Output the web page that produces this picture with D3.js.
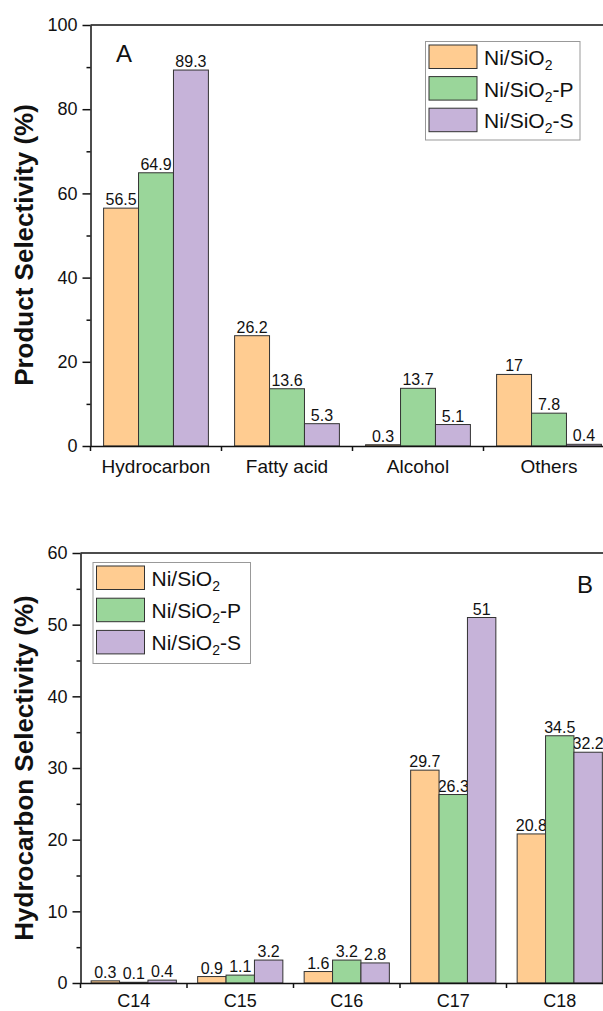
<!DOCTYPE html>
<html>
<head>
<meta charset="utf-8">
<script src="https://cdn.jsdelivr.net/npm/d3@7"></script>
<style>
  body { margin: 0; background: #fff; }
  text { font-family: "Liberation Sans", Arial, sans-serif; fill: #111; }
</style>
</head>
<body>
<script>
let width = 603;
let height = 1011;

// data
let seriesNames = ["Ni/SiO2", "Ni/SiO2-P", "Ni/SiO2-S"];
let seriesColors = ["#ffcc91", "#9ad69a", "#c6b3d9"];

let productCats = ["Hydrocarbon", "Fatty acid", "Alcohol", "Others"];
let productNi = [56.5, 26.2, 0.3, 17];
let productNiP = [64.9, 13.6, 13.7, 7.8];
let productNiS = [89.3, 5.3, 5.1, 0.4];
let productTicks = [0, 20, 40, 60, 80, 100];
let productMinor = [10, 30, 50, 70, 90];

let carbonCats = ["C14", "C15", "C16", "C17", "C18"];
let carbonNi = [0.3, 0.9, 1.6, 29.7, 20.8];
let carbonNiP = [0.1, 1.1, 3.2, 26.3, 34.5];
let carbonNiS = [0.4, 3.2, 2.8, 51, 32.2];
let carbonTicks = [0, 10, 20, 30, 40, 50, 60];
let carbonMinor = [5, 15, 25, 35, 45, 55];

let svg = d3.select("body")
    .append("svg")
    .attr("width", width)
    .attr("height", height);

function drawPanel(p) {
    let g = svg.append("g");

    let y = d3.scaleLinear().domain([0, p.yMax]).range([p.bottom, p.top]);
    let x0 = d3.scaleBand().domain(p.cats).range([p.left, p.right]);
    let x1 = d3.scaleBand().domain(d3.range(seriesNames.length))
        .range([0, x0.bandwidth()])
        .paddingInner(0)
        .paddingOuter(0.375);

    let rows = [];
    p.cats.forEach(function(c, i) {
        p.series.forEach(function(vals, s) {
            rows.push({cat: c, s: s, v: vals[i]});
        });
    });

    // labels first so neighbouring bars cover them like in the original
    g.append("g")
        .selectAll("text")
        .data(rows)
        .enter().append("text")
        .attr("x", function(d) { return x0(d.cat) + x1(d.s) + x1.bandwidth() / 2; })
        .attr("y", function(d) { return y(d.v) - 3; })
        .attr("text-anchor", "middle")
        .attr("font-size", 16)
        .text(function(d) { return String(d.v); });

    g.append("g")
        .selectAll("rect")
        .data(rows)
        .enter().append("rect")
        .attr("x", function(d) { return x0(d.cat) + x1(d.s); })
        .attr("y", function(d) { return y(d.v); })
        .attr("width", x1.bandwidth())
        .attr("height", function(d) { return p.bottom - y(d.v); })
        .attr("fill", function(d) { return seriesColors[d.s]; })
        .attr("stroke", "#333")
        .attr("stroke-width", 1);

    // y axis
    let yAxis = g.append("g")
        .attr("transform", "translate(" + p.left + ",0)")
        .call(d3.axisLeft(y).tickValues(p.ticks).tickSize(8).tickPadding(5).tickSizeOuter(0));
    yAxis.selectAll("text").attr("font-size", 18).style("font-family", "Liberation Sans, Arial, sans-serif").attr("fill", "#111");
    g.append("g")
        .attr("transform", "translate(" + p.left + ",0)")
        .call(d3.axisLeft(y).tickValues(p.minor).tickSize(4).tickFormat("").tickSizeOuter(0))
        .select(".domain").remove();

    // x axis
    let xAxis = g.append("g")
        .attr("transform", "translate(0," + p.bottom + ")")
        .call(d3.axisBottom(x0).tickSize(0).tickPadding(p.xPad));
    xAxis.selectAll("text").attr("font-size", p.xFont).style("font-family", "Liberation Sans, Arial, sans-serif").attr("fill", "#111");
    g.append("g")
        .selectAll("line")
        .data(p.cats)
        .enter().append("line")
        .attr("x1", function(d) { return x0(d); })
        .attr("x2", function(d) { return x0(d); })
        .attr("y1", p.bottom)
        .attr("y2", p.bottom + 5)
        .attr("stroke", "#111")
        .attr("stroke-width", 1.5);

    g.selectAll(".domain, .tick line").attr("stroke", "#111").attr("stroke-width", 1.5);

    // top frame
    g.append("line")
        .attr("x1", p.left).attr("x2", p.right)
        .attr("y1", y(p.yMax)).attr("y2", y(p.yMax))
        .attr("stroke", "#111").attr("stroke-width", 1.5);

    // axis title
    g.append("text")
        .attr("transform", "translate(33," + p.titleY + ") rotate(-90)")
        .attr("text-anchor", "middle")
        .attr("font-size", 26)
        .attr("font-weight", "bold")
        .text(p.title);

    // panel letter
    g.append("text")
        .attr("x", p.letterX)
        .attr("y", p.letterY)
        .attr("font-size", 24)
        .text(p.letter);

    // legend
    let lg = g.append("g").attr("transform", "translate(" + p.legX + "," + p.legY + ")");
    lg.append("rect")
        .attr("width", p.legW).attr("height", p.legH)
        .attr("fill", "#fff").attr("stroke", "#999").attr("stroke-width", 1);
    let items = lg.selectAll("g.item")
        .data(seriesNames)
        .enter().append("g")
        .attr("class", "item")
        .attr("transform", function(d, i) { return "translate(3.5," + (3.5 + i * p.legStep) + ")"; });
    items.append("rect")
        .attr("width", 48).attr("height", 23.5)
        .attr("fill", function(d, i) { return seriesColors[i]; })
        .attr("stroke", "#333").attr("stroke-width", 1);
    let lt = items.append("text")
        .attr("x", 55)
        .attr("y", 20)
        .attr("font-size", 21);
    lt.append("tspan").text("Ni/SiO");
    lt.append("tspan").attr("font-size", 14).attr("dy", 5).text("2");
    lt.append("tspan").attr("dy", -5).text(function(d) { return d.slice(7); });
}

drawPanel({
    cats: productCats,
    series: [productNi, productNiP, productNiS],
    yMax: 100, ticks: productTicks, minor: productMinor,
    left: 90.5, right: 614.5, top: 25, bottom: 446,
    xPad: 14, xFont: 19,
    title: "Product Selectivity (%)", titleY: 245,
    letter: "A", letterX: 116, letterY: 62,
    legX: 425.5, legY: 41.5, legW: 154.5, legH: 98.5, legStep: 31.6
});

drawPanel({
    cats: carbonCats,
    series: [carbonNi, carbonNiP, carbonNiS],
    yMax: 60, ticks: carbonTicks, minor: carbonMinor,
    left: 80.5, right: 613, top: 553, bottom: 983,
    xPad: 11, xFont: 18,
    title: "Hydrocarbon Selectivity (%)", titleY: 768,
    letter: "B", letterX: 577, letterY: 593,
    legX: 93, legY: 562.5, legW: 157.5, legH: 101, legStep: 32.2
});
</script>
</body>
</html>
